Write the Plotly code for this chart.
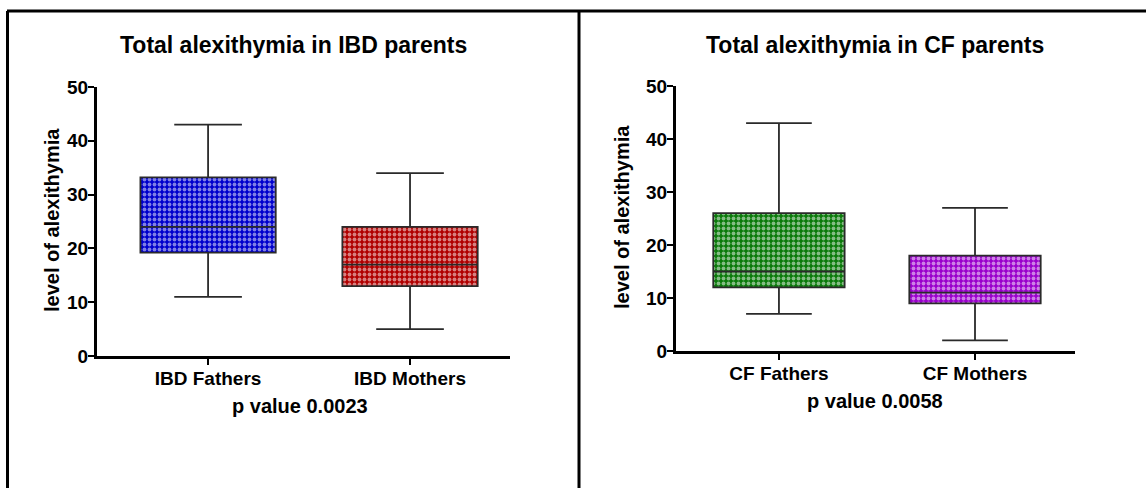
import plotly.graph_objects as go

W, H = 1146, 488

# ---- data ----
ibd_groups = ["IBD Fathers", "IBD Mothers"]
ibd_low = [11, 5]
ibd_q1 = [19.2, 13]
ibd_med = [24, 17]
ibd_q3 = [33.2, 24]
ibd_high = [43, 34]

cf_groups = ["CF Fathers", "CF Mothers"]
cf_low = [7, 2]
cf_q1 = [12, 9]
cf_med = [15, 11]
cf_q3 = [26, 18]
cf_high = [43, 27]

ibd_colors = ["#0000CC", "#B00000"]
cf_colors = ["#0A7A0A", "#9A00CC"]

y_ticks = [0, 10, 20, 30, 40, 50]

FONT = "Liberation Sans, Arial, sans-serif"


def px_x(p):
    return p / W


def px_y(p):
    return (H - p) / H


fig = go.Figure()

panels = [
    dict(groups=ibd_groups, low=ibd_low, q1=ibd_q1, med=ibd_med, q3=ibd_q3, high=ibd_high,
         colors=ibd_colors, xa="x", ya="y"),
    dict(groups=cf_groups, low=cf_low, q1=cf_q1, med=cf_med, q3=cf_q3, high=cf_high,
         colors=cf_colors, xa="x2", ya="y2"),
]

BOXW = 0.67
for p in panels:
    pos = list(range(len(p["groups"])))
    # patterned (checkered) fill of the boxes
    for i in pos:
        fig.add_trace(go.Bar(
            x=[i], y=[p["q3"][i] - p["q1"][i]], base=[p["q1"][i]], width=BOXW,
            marker=dict(color=p["colors"][i], line=dict(width=0),
                        pattern=dict(shape=".", fgcolor="white", bgcolor=p["colors"][i],
                                     size=5, solidity=0.45, fillmode="overlay")),
            xaxis=p["xa"], yaxis=p["ya"], showlegend=False, hoverinfo="skip"))
for p in panels:
    pos = list(range(len(p["groups"])))
    for i in pos:
        fig.add_trace(go.Box(
            x=[i], q1=[p["q1"][i]], median=[p["med"][i]], q3=[p["q3"][i]],
            lowerfence=[p["low"][i]], upperfence=[p["high"][i]],
            width=BOXW, whiskerwidth=0.5, fillcolor="rgba(0,0,0,0)",
            line=dict(color="#2a2a2a", width=1.8),
            xaxis=p["xa"], yaxis=p["ya"], showlegend=False, boxpoints=False))

axis_common = dict(showline=True, linecolor="black", linewidth=3, ticks="outside",
                   tickwidth=2, ticklen=6, tickcolor="black", showgrid=False, zeroline=False,
                   automargin=False,
                   tickfont=dict(family=FONT, size=19, color="black", weight="bold"))

fig.update_layout(
    template="none",
    width=W, height=H, margin=dict(l=0, r=0, t=0, b=0, pad=0),
    paper_bgcolor="white", plot_bgcolor="white",
    barmode="overlay",
    xaxis=dict(domain=[px_x(97), px_x(510)], range=[-0.55, 1.495], tickvals=[0, 1],
               ticktext=ibd_groups, anchor="y", ticklabelstandoff=-3, **axis_common),
    yaxis=dict(domain=[px_y(356), px_y(87)], range=[0, 50], tickvals=y_ticks,
               anchor="x", ticklabelstandoff=-4, **axis_common),
    xaxis2=dict(domain=[px_x(676), px_x(1075)], range=[-0.525, 1.51], tickvals=[0, 1],
                ticktext=cf_groups, anchor="y2", ticklabelstandoff=-3, **axis_common),
    yaxis2=dict(domain=[px_y(351), px_y(86)], range=[0, 50], tickvals=y_ticks,
                anchor="x2", ticklabelstandoff=-4, **axis_common),
)

anns = [
    ("Total alexithymia in IBD parents", 293, 45, 23, 0),
    ("Total alexithymia in CF parents", 875, 45, 23, 0),
    ("p value 0.0023", 300, 406, 20, 0),
    ("p value 0.0058", 875, 401, 20, 0),
    ("level of alexithymia", 52, 220, 20, -90),
    ("level of alexithymia", 622, 217, 20, -90),
]
for text, x, y, size, ang in anns:
    fig.add_annotation(text=text, x=px_x(x), y=px_y(y), xref="paper", yref="paper",
                       showarrow=False, textangle=ang, xanchor="center", yanchor="middle",
                       font=dict(family=FONT, size=size, color="black", weight="bold"))

# panel borders
border = dict(color="black", width=3)
fig.add_shape(type="line", xref="paper", yref="paper", x0=px_x(7), x1=1, y0=px_y(11), y1=px_y(11), line=border)
fig.add_shape(type="line", xref="paper", yref="paper", x0=px_x(7.5), x1=px_x(7.5), y0=px_y(11), y1=0, line=border)
fig.add_shape(type="line", xref="paper", yref="paper", x0=px_x(579), x1=px_x(579), y0=px_y(11), y1=0, line=border)

fig.write_html("out.html")
